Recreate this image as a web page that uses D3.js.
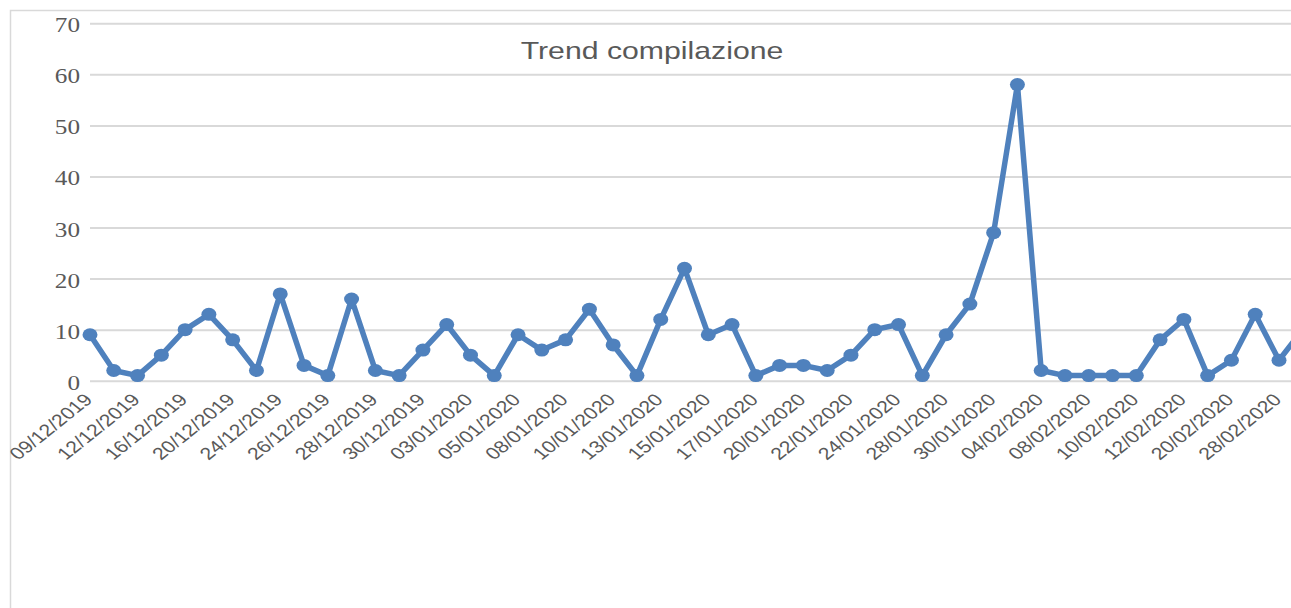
<!DOCTYPE html>
<html>
<head>
<meta charset="utf-8">
<script src="https://cdn.jsdelivr.net/npm/d3@7"></script>
<style>
  body { margin: 0; background: #fff; overflow: hidden; }
  svg { display: block; }
</style>
</head>
<body>
<div id="chart"></div>
<script>
(function () {
  "use strict";

  // categories (every other one is labelled on the axis)
  const dates = [
    "09/12/2019", "10/12/2019", "12/12/2019", "13/12/2019", "16/12/2019", "17/12/2019",
    "20/12/2019", "23/12/2019", "24/12/2019", "25/12/2019", "26/12/2019", "27/12/2019",
    "28/12/2019", "29/12/2019", "30/12/2019", "02/01/2020", "03/01/2020", "04/01/2020",
    "05/01/2020", "07/01/2020", "08/01/2020", "09/01/2020", "10/01/2020", "11/01/2020",
    "13/01/2020", "14/01/2020", "15/01/2020", "16/01/2020", "17/01/2020", "18/01/2020",
    "20/01/2020", "21/01/2020", "22/01/2020", "23/01/2020", "24/01/2020", "27/01/2020",
    "28/01/2020", "29/01/2020", "30/01/2020", "31/01/2020", "04/02/2020", "05/02/2020",
    "08/02/2020", "09/02/2020", "10/02/2020", "11/02/2020", "12/02/2020", "14/02/2020",
    "20/02/2020", "24/02/2020", "28/02/2020", "02/03/2020"
  ];

  const counts = [
    9, 2, 1, 5, 10, 13, 8, 2, 17, 3, 1, 16,
    2, 1, 6, 11, 5, 1, 9, 6, 8, 14, 7, 1,
    12, 22, 9, 11, 1, 3, 3, 2, 5, 10, 11, 1,
    9, 15, 29, 58, 2, 1, 1, 1, 1, 8, 12, 1,
    4, 13, 4, 10
  ];

  const yTicks = [0, 10, 20, 30, 40, 50, 60, 70];
  const title = "Trend compilazione";

  const width = 1291;
  const height = 608;
  const stretch = 1.26; // the picture is widened horizontally

  const svg = d3
    .select("#chart")
    .append("svg")
    .attr("width", width)
    .attr("height", height);

  // chart area border
  svg
    .append("rect")
    .attr("x", 10.5)
    .attr("y", 10.5)
    .attr("width", width + 20)
    .attr("height", height + 20)
    .attr("fill", "none")
    .attr("stroke", "#d9d9d9")
    .attr("stroke-width", 1.5);

  const x = d3
    .scalePoint()
    .domain(dates)
    .range([90, 90 + (dates.length - 1) * 23.78]);

  const y = d3.scaleLinear().domain([0, 70]).range([380.7, 23.3]);

  // y axis + gridlines
  const yAxis = svg
    .append("g")
    .attr("transform", "translate(90,0)")
    .call(
      d3.axisLeft(y)
        .tickValues(yTicks)
        .tickSize(-(width - 60))
        .tickFormat(d3.format("d"))
    );
  yAxis.select(".domain").remove();
  yAxis
    .selectAll(".tick line")
    .attr("stroke", "#d9d9d9")
    .attr("stroke-width", 2);
  yAxis
    .selectAll(".tick text")
    .attr("x", 0)
    .attr("dy", 0)
    .attr("y", 0)
    .attr("transform", `translate(-10,8.5) scale(${stretch},1)`)
    .attr("text-anchor", "end")
    .attr("fill", "#595959")
    .style("font-family", "'Liberation Serif', 'DejaVu Serif', serif")
    .style("font-size", "20px");

  // x axis labels
  const xAxis = svg
    .append("g")
    .attr("transform", `translate(0,${y(0)})`)
    .call(
      d3.axisBottom(x)
        .tickValues(dates.filter((d, i) => i % 2 === 0))
        .tickSize(0)
    );
  xAxis.select(".domain").remove();
  xAxis
    .selectAll(".tick text")
    .attr("x", 0)
    .attr("y", 0)
    .attr("dy", 0)
    .attr("transform", `translate(3,20) scale(1.25,1) rotate(-45)`)
    .attr("text-anchor", "end")
    .attr("fill", "#595959")
    .style("font-family", "'Liberation Sans', Arial, sans-serif")
    .style("font-size", "17px");

  // title
  svg
    .append("text")
    .attr("transform", `translate(652,59) scale(${stretch},1)`)
    .attr("text-anchor", "middle")
    .attr("fill", "#595959")
    .style("font-family", "'Liberation Sans', Arial, sans-serif")
    .style("font-size", "24px")
    .text(title);

  // the line
  const line = d3
    .line()
    .x((d, i) => x(dates[i]))
    .y((d) => y(d));

  svg
    .append("path")
    .datum(counts)
    .attr("d", line)
    .attr("fill", "none")
    .attr("stroke", "#4f81bd")
    .attr("stroke-width", 5.5)
    .attr("stroke-linejoin", "round");

  svg
    .append("g")
    .selectAll("ellipse")
    .data(counts)
    .join("ellipse")
    .attr("cx", (d, i) => x(dates[i]))
    .attr("cy", (d) => y(d))
    .attr("rx", 7.5)
    .attr("ry", 6.5)
    .attr("fill", "#4f81bd");
})();
</script>
</body>
</html>
